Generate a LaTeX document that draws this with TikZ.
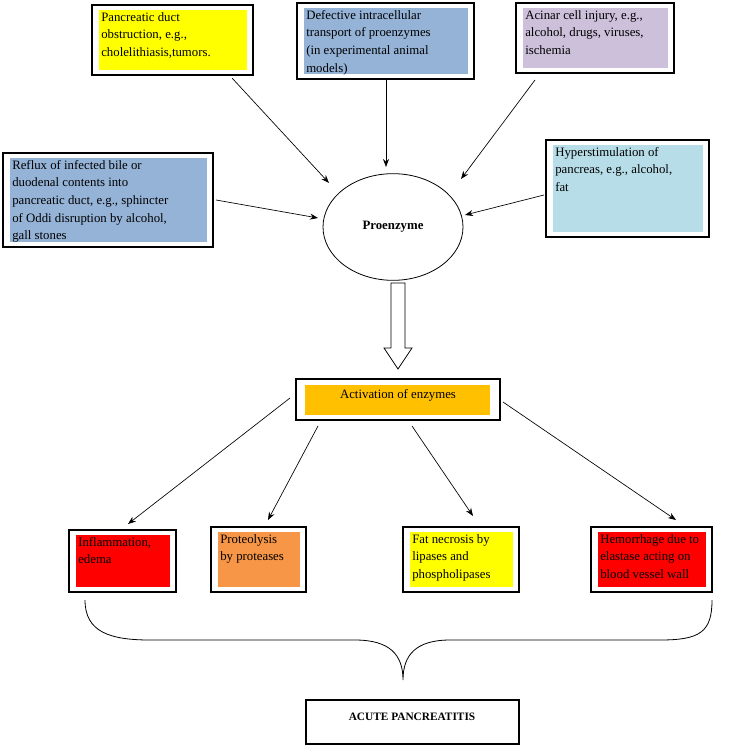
\documentclass[tikz,border=0pt]{standalone}
\usepackage{fontspec}
\setmainfont{Liberation Serif}
\usetikzlibrary{shapes.geometric,calc,arrows.meta}
\definecolor{cyel}{HTML}{FFFF00}
\definecolor{cblue}{HTML}{95B3D7}
\definecolor{cpur}{HTML}{CCC0DA}
\definecolor{clb}{HTML}{B7DEE8}
\definecolor{corg}{HTML}{FFC000}
\definecolor{cred}{HTML}{FF0000}
\definecolor{clo}{HTML}{F79646}
\begin{document}
\begin{tikzpicture}[x=0.75pt,y=-0.75pt,
  outer/.style={draw=black,line width=0.8pt,fill=white},
  txt/.style={anchor=north west,inner sep=1.5pt,align=left,font=\fontsize{9.6}{13.2}\selectfont},
  arr/.style={-{Stealth[length=6pt,width=4.5pt]},line width=0.5pt}]
\useasboundingbox (0,0) rectangle (729,745);
\newcommand{\mybox}[7]{%
  \draw[outer] (#1,#2) rectangle (#3,#4);
  \fill[#7] ($(#1,#2)+(7,5)$) rectangle ($(#3,#4)+(-6,-5)$);
  \node[txt] (#5) at ($(#1,#2)+(7,5)$) {#6};}
\mybox{92}{5}{253}{75}{b1}{Pancreatic duct\\obstruction, e.g.,\\cholelithiasis,tumors.}{cyel}
\mybox{297}{3}{474}{79}{b2}{Defective intracellular\\transport of proenzymes\\(in experimental animal\\models)}{cblue}
\mybox{516}{3}{674}{73}{b3}{Acinar cell injury, e.g.,\\alcohol, drugs, viruses,\\ischemia}{cpur}
\mybox{3}{153}{213}{247}{b4}{Reflux of infected bile or\\duodenal contents into\\pancreatic duct, e.g., sphincter\\of Oddi disruption by alcohol,\\gall stones}{cblue}
\mybox{546}{140}{709}{237}{b5}{Hyperstimulation of\\pancreas, e.g., alcohol,\\fat}{clb}
\node[draw,ellipse,minimum width=105pt,minimum height=80pt,line width=0.6pt,font=\bfseries\fontsize{9.6}{12}\selectfont] (pro) at (393,227) {Proenzyme};
\coordinate (a1) at (232,78); \coordinate (a1e) at (329,183);
\coordinate (a2) at (386,79); \coordinate (a2e) at (386,167);
\coordinate (a3) at (535,80); \coordinate (a3e) at (461,179);
\coordinate (a4) at (216,200); \coordinate (a4e) at (318,218);
\coordinate (a5) at (544,195); \coordinate (a5e) at (465,215);
\foreach \s/\e in {a1/a1e,a2/a2e,a3/a3e,a4/a4e,a5/a5e} \draw[arr] (\s)--(\e);
\draw[line width=0.6pt,fill=white] (391,283)--(405,283)--(405,348)--(412,348)--(398,369)--(384,348)--(391,348)--cycle;
\draw[outer] (296,379) rectangle (500,420);
\fill[corg] (305,385) rectangle (490,415);
\node[font=\fontsize{9.6}{12}\selectfont] (act) at (398,395) {Activation of enzymes};
\mybox{69}{530}{176}{592}{c1}{Inflammation,\\edema}{cred}
\mybox{211}{527}{306}{592}{c2}{Proteolysis\\by proteases}{clo}
\mybox{403}{527}{519}{592}{c3}{Fat necrosis by\\lipases and\\phospholipases}{cyel}
\mybox{591}{527}{712}{592}{c4}{Hemorrhage due to\\elastase acting on\\blood vessel wall}{cred}
\coordinate (d1) at (290,398); \coordinate (d1e) at (128,524);
\coordinate (d2) at (318,426); \coordinate (d2e) at (268,520);
\coordinate (d3) at (412,426); \coordinate (d3e) at (473,516);
\coordinate (d4) at (503,402); \coordinate (d4e) at (676,520);
\foreach \s/\e in {d1/d1e,d2/d2e,d3/d3e,d4/d4e} \draw[arr] (\s)--(\e);
\draw[line width=0.6pt] (85,600) .. controls (85,632) and (110,640) .. (150,640) -- (355,640) .. controls (390,640) and (403,655) .. (403,680) .. controls (403,655) and (416,640) .. (450,640) -- (660,640) .. controls (700,640) and (712,632) .. (712,600);
\draw[outer] (306,700) rectangle (519,744);
\node[font=\bfseries\fontsize{8.5}{10}\selectfont] (ap) at (412,717) {ACUTE PANCREATITIS};
\end{tikzpicture}
\end{document}
